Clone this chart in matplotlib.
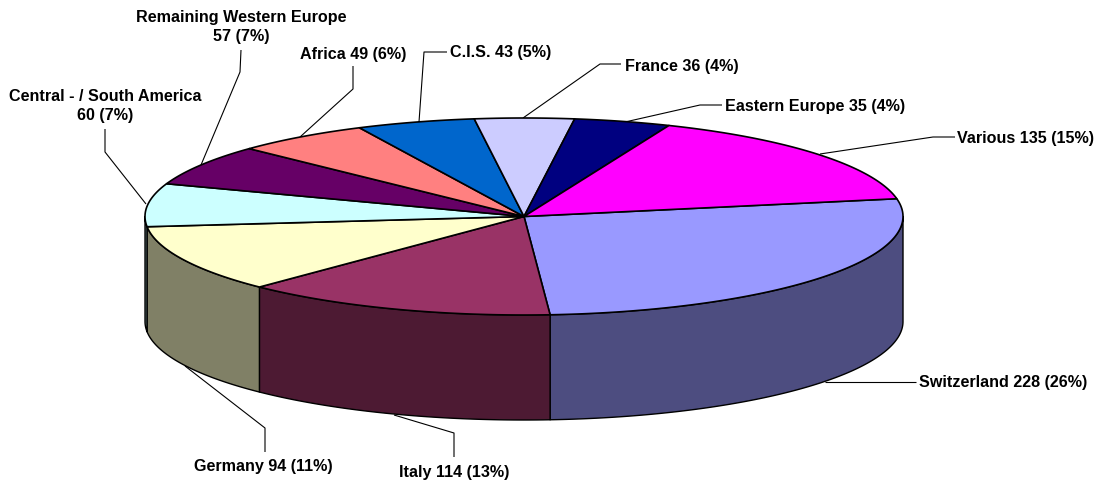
import numpy as np
import matplotlib
matplotlib.use("Agg")
import matplotlib.pyplot as plt
from matplotlib.patches import Polygon

names = ["Switzerland", "Italy", "Germany", "Central - / South America",
         "Remaining Western Europe", "Africa", "C.I.S.", "France",
         "Eastern Europe", "Various"]
values = [228, 114, 94, 60, 57, 49, 43, 36, 35, 135]
percents = [26, 13, 11, 7, 7, 6, 5, 4, 4, 15]
top_colors = ["#9999FF", "#993366", "#FFFFCC", "#CCFFFF", "#660066",
              "#FF8080", "#0066CC", "#CCCCFF", "#000080", "#FF00FF"]
side_colors = ["#4D4D80", "#4D1A33", "#808066", "#668080", "#330033",
               "#804040", "#003366", "#666680", "#000040", "#800080"]

CX, CY, RX, RY, DEPTH = 524, 216.5, 379, 98.5, 105
START = 10.4

fig = plt.figure(figsize=(11.02, 4.83), dpi=100)
ax = fig.add_axes([0, 0, 1, 1])
ax.set_xlim(0, 1102)
ax.set_ylim(483, 0)
ax.axis("off")


def rim(t0, t1):
    t = np.radians(np.linspace(t0, t1, max(int(abs(t1 - t0) * 2), 2)))
    return np.column_stack([CX + RX * np.cos(t), CY - RY * np.sin(t)])


sweeps = np.array(values) / sum(values) * 360
edges = START - np.concatenate([[0], np.cumsum(sweeps)])

# side wall: only the front half (angles from 0 to -180) is visible
for i in range(len(values)):
    a0 = min(edges[i], 0)
    a1 = max(edges[i + 1], -180)
    if a0 <= a1:
        continue
    upper = rim(a0, a1)
    lower = upper + [0, DEPTH]
    ax.add_patch(Polygon(np.vstack([upper, lower[::-1]]), closed=True,
                         facecolor=side_colors[i], edgecolor="black",
                         linewidth=1.0, joinstyle="round", zorder=2))

for i in range(len(values)):
    pts = np.vstack([[CX, CY], rim(edges[i], edges[i + 1])])
    ax.add_patch(Polygon(pts, closed=True, facecolor=top_colors[i],
                         edgecolor="black", linewidth=1.2,
                         joinstyle="round", zorder=3))

leaders = [
    [(916, 382), (825, 382)],
    [(454, 457), (454, 433), (394, 415)],
    [(265, 452), (265, 428), (185, 366)],
    [(105, 129), (105, 152), (146, 204)],
    [(241, 50), (240, 72), (201, 165)],
    [(353, 66), (353, 89), (300, 137)],
    [(447, 52), (424, 52), (419, 122)],
    [(621, 64), (600, 64), (523, 118)],
    [(722, 105), (700, 105), (625, 122)],
    [(955, 137), (933, 137), (820, 154)],
]
for line in leaders:
    xs, ys = zip(*line)
    ax.plot(xs, ys, color="black", lw=0.8, zorder=1, solid_capstyle="butt")

# x, y, horizontal alignment, two-line flag
label_pos = [
    (919, 383, "left", False),
    (399, 472, "left", False),
    (194, 467, "left", False),
    (105, 106, "center", True),
    (241, 27, "center", True),
    (300, 54, "left", False),
    (450, 53, "left", False),
    (625, 66, "left", False),
    (725, 106, "left", False),
    (957, 138, "left", False),
]
for n, v, p, (x, y, ha, two) in zip(names, values, percents, label_pos):
    sep = "\n" if two else " "
    ax.text(x, y, f"{n}{sep}{v} ({p}%)", ha=ha, va="center",
            multialignment="center", family="Liberation Sans",
            fontweight="bold", fontsize=11.6, color="black",
            linespacing=1.4, zorder=5)

fig.savefig("out.png", dpi=100, facecolor="white")
